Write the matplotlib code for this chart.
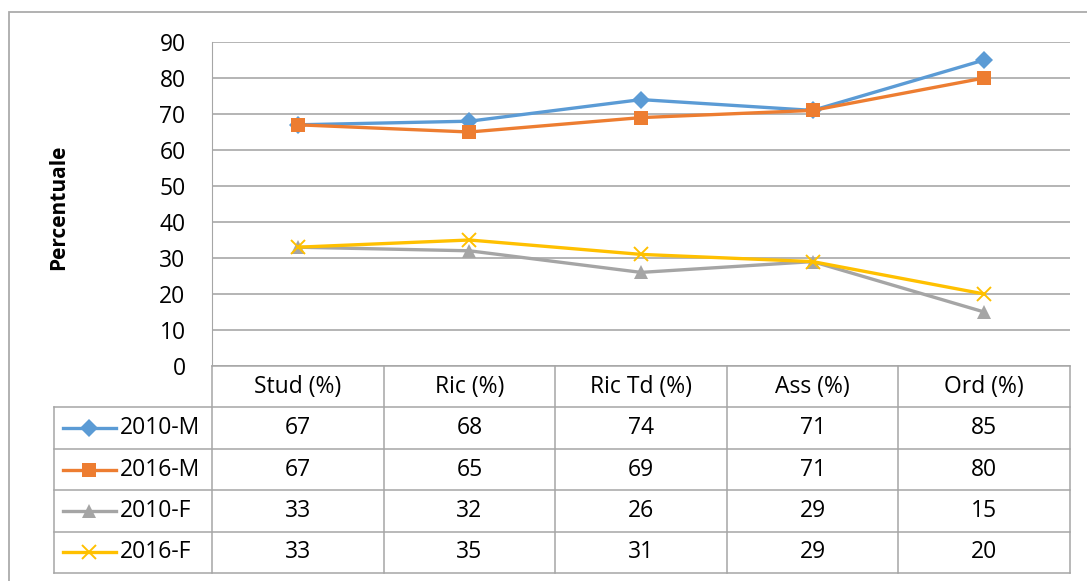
import matplotlib.pyplot as plt
from matplotlib.patches import Rectangle
from matplotlib.lines import Line2D

plt.rcParams['font.family'] = ['Open Sans', 'DejaVu Sans']

categories = ["Stud (%)", "Ric (%)", "Ric Td (%)", "Ass (%)", "Ord (%)"]
series_names = ["2010-M", "2016-M", "2010-F", "2016-F"]
m_2010 = [67, 68, 74, 71, 85]
m_2016 = [67, 65, 69, 71, 80]
f_2010 = [33, 32, 26, 29, 15]
f_2016 = [33, 35, 31, 29, 20]
series_values = [m_2010, m_2016, f_2010, f_2016]

colors = ["#5B9BD5", "#ED7D31", "#A5A5A5", "#FFC000"]
markers = ["D", "s", "^", "x"]
msizes = [9.5, 10.5, 10, 10]
grid_col = "#AFAFAF"
line_col = "#A6A6A6"
fs = 16.5

W, H = 1087, 581
fig = plt.figure(figsize=(W / 100, H / 100), dpi=100)

def px_axes(x0, y0, x1, y1):
    return fig.add_axes([x0 / W, 1 - y1 / H, (x1 - x0) / W, (y1 - y0) / H])

# outer chart border
fig.patches.append(Rectangle((9 / W, -0.05), 1.2, 1 - 12 / H + 0.05, transform=fig.transFigure,
                             fill=False, edgecolor="#ABABAB", lw=1.3))

# main plot area
ax = px_axes(212, 42, 1070, 366)
x = [i + 0.5 for i in range(len(categories))]
for vals, c, m, ms in zip(series_values, colors, markers, msizes):
    ax.plot(x, vals, color=c, lw=2.4, marker=m, ms=ms, mew=1.4 if m == "x" else 0,
            mec=c, mfc=c, zorder=3, clip_on=False)
ax.set_xlim(0, 5)
ax.set_ylim(0, 90)
ax.set_yticks(range(0, 91, 10))
ax.set_xticks([])
ax.tick_params(axis="y", length=0, pad=19, labelsize=fs)
ax.grid(axis="y", color=grid_col, lw=1.3)
for s in ["top", "right", "bottom"]:
    ax.spines[s].set_visible(False)
ax.spines["left"].set_color(line_col)
fig.text(59 / W, 1 - 207 / H, "Percentuale", rotation=90, ha="center", va="center",
         fontsize=15, fontweight="bold")

# data table below the plot
tx = px_axes(54, 366, 1070, 573)
left = -(212 - 54) / ((1070 - 212) / 5)
tx.set_xlim(left, 5)
tx.set_ylim(5, 0)
tx.axis("off")
lk = dict(color=line_col, lw=1.1, clip_on=False)
# horizontal lines
tx.plot([0, 5], [0, 0], **lk)
for r in range(1, 6):
    tx.plot([left, 5], [r, r], **lk)
# vertical lines
for cidx in range(0, 6):
    tx.plot([cidx, cidx], [0, 5], **lk)
tx.plot([left, left], [1, 5], **lk)

for i, cat in enumerate(categories):
    tx.text(i + 0.5, 0.5, cat, ha="center", va="center", fontsize=fs)
for r, (name, vals, c, m, ms) in enumerate(zip(series_names, series_values, colors, markers, msizes)):
    yy = r + 1.5
    kx0 = left + 0.05
    kx1 = left + 0.36
    tx.add_line(Line2D([kx0, kx1], [yy, yy], color=c, lw=2.4))
    tx.plot([(kx0 + kx1) / 2], [yy], marker=m, ms=ms, color=c,
            mew=1.4 if m == "x" else 0, clip_on=False)
    tx.text(left + 0.385, yy, name, ha="left", va="center", fontsize=fs)
    for i, v in enumerate(vals):
        tx.text(i + 0.5, yy, str(v), ha="center", va="center", fontsize=fs)

fig.savefig("out.png", dpi=100)
